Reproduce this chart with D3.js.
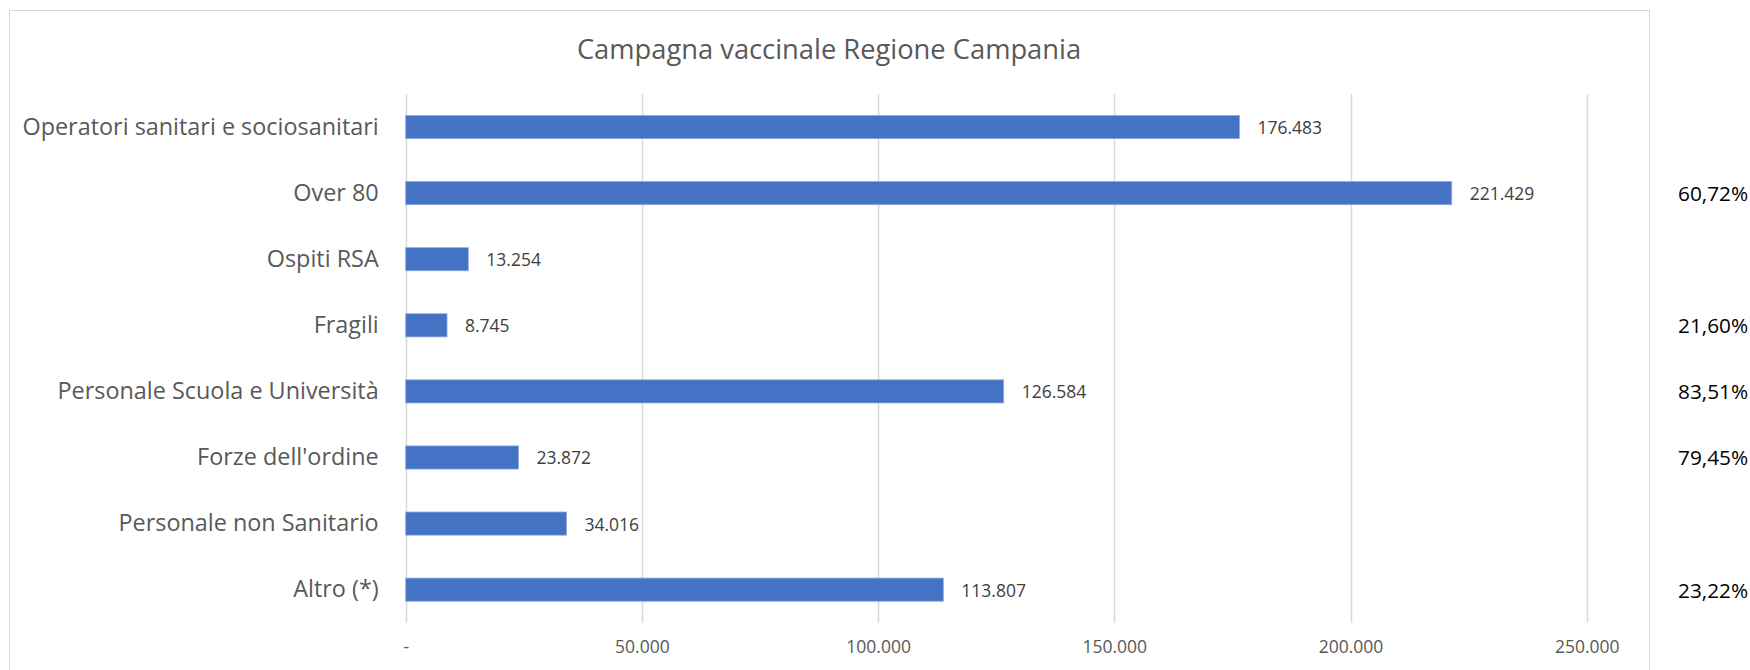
<!DOCTYPE html>
<html>
<head>
<meta charset="utf-8">
<script src="https://cdn.jsdelivr.net/npm/d3@7"></script>
<style>
  html, body { margin: 0; padding: 0; background: #fff; }
  svg { display: block; font-family: "Open Sans", sans-serif; }
</style>
</head>
<body>
<svg id="chart" width="1750" height="670"></svg>
<script>
// data
const categories = [
    "Operatori sanitari e sociosanitari",
    "Over 80",
    "Ospiti RSA",
    "Fragili",
    "Personale Scuola e Università",
    "Forze dell'ordine",
    "Personale non Sanitario",
    "Altro (*)"
];
const doses = [176483, 221429, 13254, 8745, 126584, 23872, 34016, 113807];
const shares = [null, 0.6072, null, 0.2160, 0.8351, 0.7945, null, 0.2322];
const xTicks = [0, 50000, 100000, 150000, 200000, 250000];
const title = "Campagna vaccinale Regione Campania";

const it = d3.formatLocale({ decimal: ",", thousands: ".", grouping: [3], currency: ["€", ""] });
const fmtNum = it.format(",d");
const fmtPct = it.format(".2%");

const svg = d3.select("#chart");

// chart frame
svg.append("rect")
    .attr("x", 9.5).attr("y", 10.5)
    .attr("width", 1640).attr("height", 700)
    .attr("fill", "none")
    .attr("stroke", "#d9d9d9");

const plotTop = 94, plotBottom = 622.7;
const x = d3.scaleLinear().domain([0, 250000]).range([405.7, 1586.7]);
const y = d3.scaleBand()
    .domain(categories)
    .range([plotTop, plotBottom])
    .paddingInner(0.65)
    .paddingOuter(0.325);

// title
svg.append("text")
    .attr("x", 829).attr("y", 48)
    .attr("text-anchor", "middle")
    .attr("dominant-baseline", "central")
    .attr("fill", "#595959")
    .attr("font-size", 27.3)
    .text(title);

// gridlines
svg.append("g")
    .selectAll("line")
    .data(xTicks)
    .join("line")
    .attr("x1", d => Math.round(x(d)) + 0.5)
    .attr("x2", d => Math.round(x(d)) + 0.5)
    .attr("y1", plotTop).attr("y2", plotBottom)
    .attr("stroke", "#d9d9d9")
    .attr("stroke-width", 1.5);

// x axis labels
const xAxis = svg.append("g")
    .attr("transform", `translate(0,${plotBottom})`)
    .call(d3.axisBottom(x).tickValues(xTicks).tickSize(0).tickPadding(18)
        .tickFormat(d => d === 0 ? "-" : fmtNum(d)));
xAxis.select(".domain").remove();
xAxis.selectAll("text")
    .attr("font-family", "Open Sans, sans-serif")
    .attr("font-size", 17.5)
    .attr("fill", "#595959");

// category labels
const yAxis = svg.append("g")
    .attr("transform", `translate(${x(0)},0)`)
    .call(d3.axisLeft(y).tickSize(0).tickPadding(27));
yAxis.select(".domain").remove();
yAxis.selectAll("text")
    .attr("font-family", "Open Sans, sans-serif")
    .attr("font-size", 23.4)
    .attr("fill", "#595959");

// bars
svg.append("g")
    .selectAll("rect")
    .data(doses)
    .join("rect")
    .attr("x", x(0))
    .attr("y", (d, i) => y(categories[i]))
    .attr("width", d => x(d) - x(0))
    .attr("height", y.bandwidth())
    .attr("fill", "#4472c4")
    .attr("stroke", "#8eaadb")
    .attr("stroke-width", 0.8);

// value labels
svg.append("g")
    .selectAll("text")
    .data(doses)
    .join("text")
    .attr("x", d => x(d) + 18)
    .attr("y", (d, i) => y(categories[i]) + y.bandwidth() / 2)
    .attr("dominant-baseline", "central")
    .attr("font-size", 17.5)
    .attr("fill", "#404040")
    .text(d => fmtNum(d));

// percentages on the right
svg.append("g")
    .selectAll("text")
    .data(shares.map((s, i) => ({ s, cat: categories[i] })).filter(d => d.s !== null))
    .join("text")
    .attr("x", 1678)
    .attr("y", d => y(d.cat) + y.bandwidth() / 2)
    .attr("dominant-baseline", "central")
    .attr("font-size", 20.8)
    .attr("fill", "#000")
    .text(d => fmtPct(d.s));
</script>
</body>
</html>
